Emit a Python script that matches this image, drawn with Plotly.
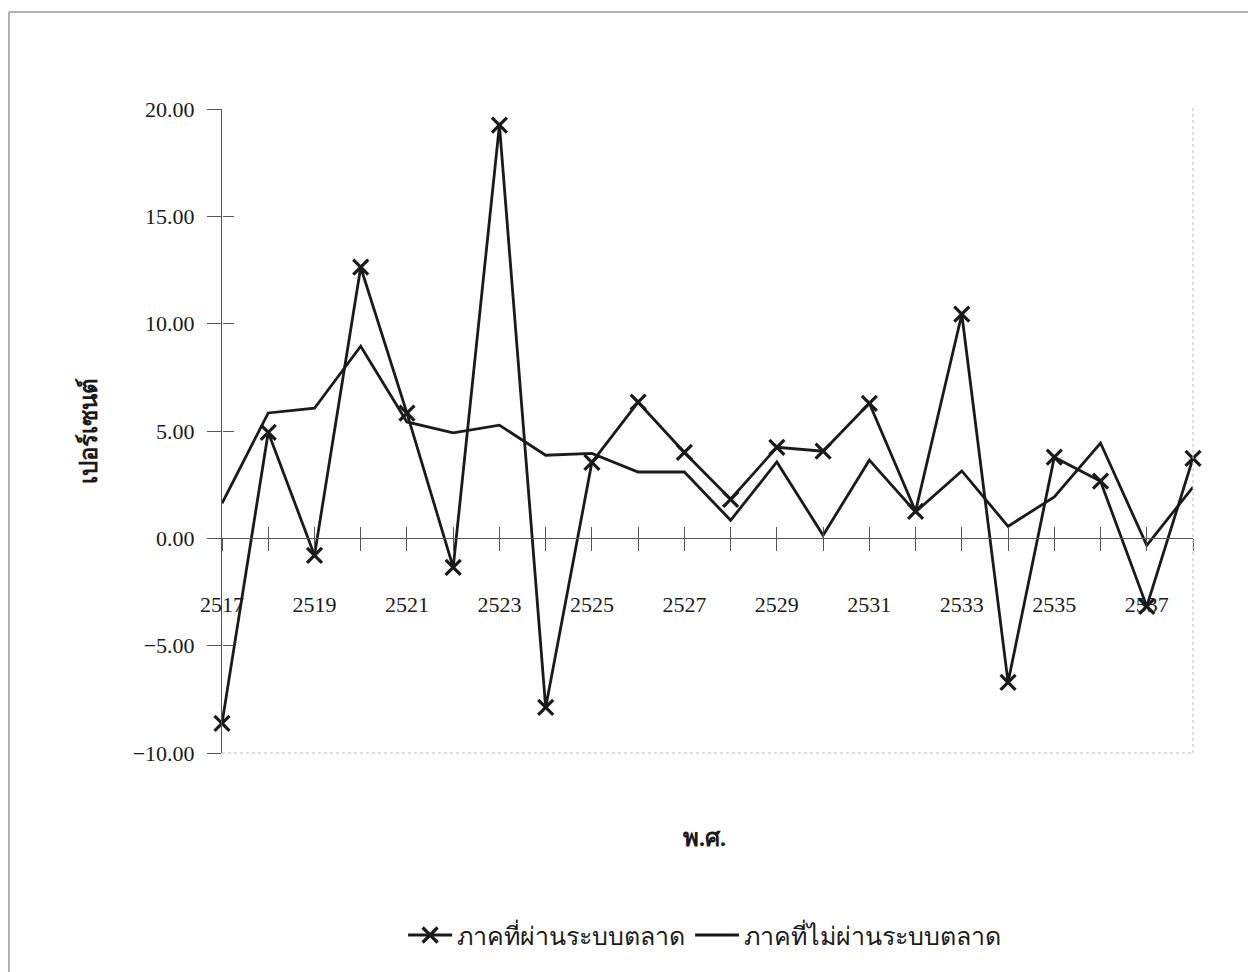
import plotly.graph_objects as go

years = list(range(2517, 2539))
marketed = [-8.62, 4.94, -0.79, 12.63, 5.83, -1.35, 19.25, -7.88, 3.54, 6.34, 4.00,
            1.82, 4.24, 4.06, 6.29, 1.26, 10.44, -6.71, 3.78, 2.66, -3.17, 3.73]
non_marketed = [1.63, 5.84, 6.06, 8.95, 5.42, 4.91, 5.27, 3.87, 3.96, 3.09, 3.09,
                0.84, 3.56, 0.14, 3.64, 1.23, 3.14, 0.56, 1.93, 4.44, -0.33, 2.39]
series_names = ["ภาคที่ผ่านระบบตลาด", "ภาคที่ไม่ผ่านระบบตลาด"]
x_tick_text = [str(y) if (y - 2517) % 2 == 0 else "" for y in years]
y_tick_vals = [-10, -5, 0, 5, 10, 15, 20]
x_title = "พ.ศ."
y_title = "เปอร์เซนต์"

SERIF = "Liberation Serif, Times New Roman, Noto Sans, DejaVu Sans, serif"
AX = "#555555"

fig = go.Figure()
fig.add_trace(go.Scatter(
    x=years, y=marketed, name=series_names[0], mode="lines+markers",
    line=dict(color="#1a1a1a", width=2.8),
    marker=dict(symbol="x-thin", size=15, line=dict(color="#1a1a1a", width=3.2)),
    cliponaxis=False,
))
fig.add_trace(go.Scatter(
    x=years, y=non_marketed, name=series_names[1], mode="lines",
    line=dict(color="#1a1a1a", width=2.8),
    cliponaxis=False,
))
# invisible trace to activate the overlay axes (crossing tick halves)
fig.add_trace(go.Scatter(
    x=years, y=non_marketed, xaxis="x2", yaxis="y2", mode="lines",
    line=dict(color="rgba(0,0,0,0)"), showlegend=False, hoverinfo="skip",
))

zero_pos = (0 - (-10)) / (20 - (-10))

fig.update_layout(
    width=1256, height=972,
    paper_bgcolor="white", plot_bgcolor="white",
    margin=dict(l=214, r=71, t=101, b=227),
    font=dict(family=SERIF, size=22, color="#1a1a1a"),
    showlegend=True,
    legend=dict(orientation="h", x=0.497, y=-0.283, xanchor="center", yanchor="middle",
                font=dict(family=SERIF, size=25, color="#1a1a1a"),
                itemwidth=44, traceorder="normal"),
    xaxis=dict(
        range=[2517, 2538], anchor="free", position=zero_pos,
        tickvals=years, ticktext=x_tick_text, ticks="outside", ticklen=12,
        tickcolor=AX, tickwidth=1, showline=True, linecolor=AX, linewidth=1,
        showgrid=False, zeroline=False, ticklabelstandoff=34,
        tickfont=dict(family=SERIF, size=22, color="#1a1a1a"),
    ),
    xaxis2=dict(
        range=[2517, 2538], overlaying="x", anchor="free", position=zero_pos,
        tickvals=years, ticks="inside", ticklen=11, tickcolor=AX, tickwidth=1,
        showticklabels=False, showline=False, showgrid=False, zeroline=False,
    ),
    yaxis=dict(
        range=[-10, 20], tickvals=y_tick_vals, tickformat=".2f",
        ticks="outside", ticklen=14, tickcolor=AX, tickwidth=1,
        showline=True, linecolor=AX, linewidth=1, showgrid=False, zeroline=False,
        tickfont=dict(family=SERIF, size=22, color="#1a1a1a"),
        ticklabelstandoff=8,
    ),
    yaxis2=dict(
        range=[-10, 20], overlaying="y", anchor="free", position=0,
        tickvals=y_tick_vals, ticks="inside", ticklen=11, tickcolor=AX, tickwidth=1,
        showticklabels=False, showline=False, showgrid=False, zeroline=False,
    ),
    annotations=[
        dict(text=f"<b>{x_title}</b>", xref="paper", yref="paper", x=0.497, y=-0.132,
             showarrow=False, xanchor="center", yanchor="middle",
             font=dict(family=SERIF, size=24, color="#1a1a1a")),
        dict(text=f"<b>{y_title}</b>", xref="paper", yref="paper", x=-0.138, y=0.5,
             showarrow=False, textangle=-90, xanchor="center", yanchor="middle",
             font=dict(family=SERIF, size=24, color="#1a1a1a")),
    ],
    shapes=[
        dict(type="line", xref="paper", yref="paper", x0=1, x1=1, y0=0, y1=1.002,
             line=dict(color="#bbbbbb", width=1, dash="dot")),
        dict(type="line", xref="paper", yref="paper", x0=0, x1=1, y0=0, y1=0,
             line=dict(color="#bbbbbb", width=1, dash="dot")),
        dict(type="line", xref="paper", yref="paper", x0=-0.2194, x1=1.09, y0=1.1506, y1=1.1506,
             line=dict(color="#999999", width=1.5)),
        dict(type="line", xref="paper", yref="paper", x0=-0.2194, x1=-0.2194, y0=-0.34, y1=1.1506,
             line=dict(color="#999999", width=1.5)),
    ],
)

fig.write_html("out.html")
